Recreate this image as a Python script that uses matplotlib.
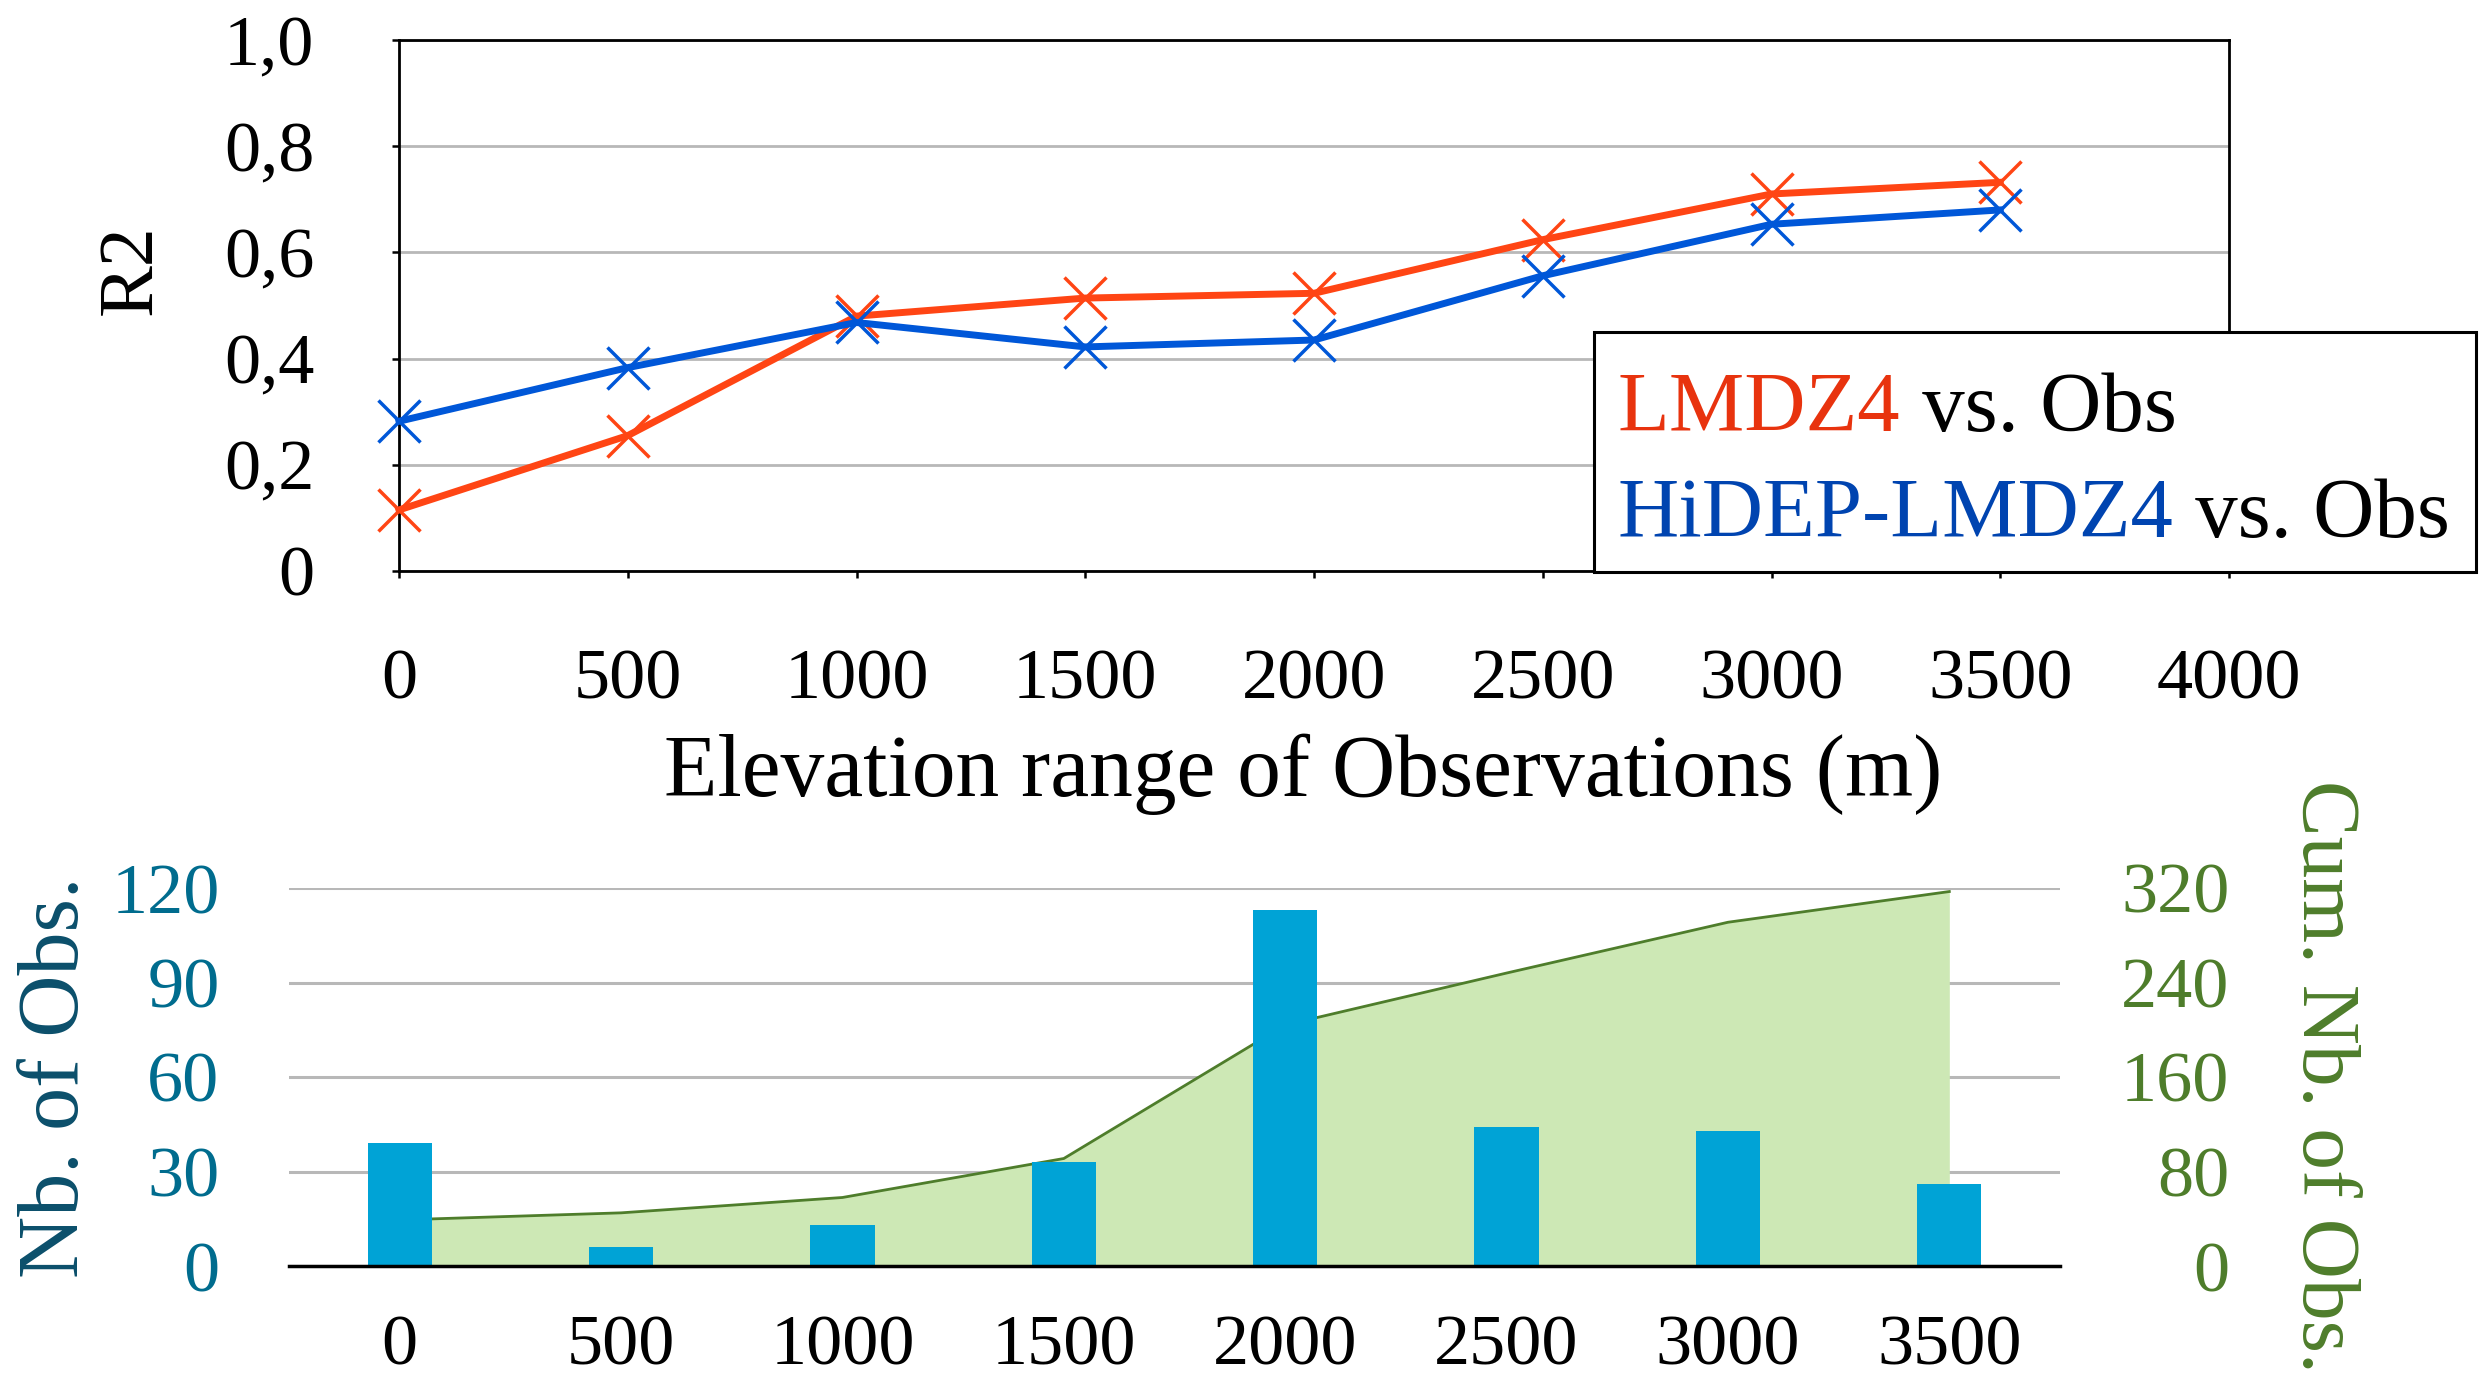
import matplotlib
matplotlib.use('Agg')
import matplotlib.pyplot as plt
from matplotlib.patches import Rectangle
from matplotlib.text import Annotation

# values
elevation = [0, 500, 1000, 1500, 2000, 2500, 3000, 3500]
r2_lmdz4 = [0.115, 0.255, 0.48, 0.514, 0.523, 0.624, 0.71, 0.732]
r2_hidep = [0.282, 0.383, 0.468, 0.422, 0.435, 0.556, 0.653, 0.68]
r2_ticks = [0, 0.2, 0.4, 0.6, 0.8, 1.0]
r2_tick_labels = ['0', '0,2', '0,4', '0,6', '0,8', '1,0']
elev_ticks = [0, 500, 1000, 1500, 2000, 2500, 3000, 3500, 4000]

elev_classes = ['0', '500', '1000', '1500', '2000', '2500', '3000', '3500']
nb_obs = [39, 6, 13, 33, 113, 44, 43, 26]
cum_obs = [39, 45, 58, 91, 204, 248, 291, 317]
nb_ticks = [0, 30, 60, 90, 120]
cum_ticks = [0, 80, 160, 240, 320]

RED = '#ff4514'
BLUE = '#0057d8'
TEAL = '#006c8e'
TEAL_DARK = '#0b4f6b'
OLIVE = '#4e7d2b'
W, H = 2492, 1383

plt.rcParams['font.family'] = ['Liberation Serif', 'DejaVu Serif']

fig = plt.figure(figsize=(W / 100, H / 100), dpi=100)

# --- top panel: R2 against elevation ---
ax1 = fig.add_axes([399 / W, 1 - 571 / H, (2229 - 399) / W, (571 - 40) / H])
ax1.plot(elevation, r2_lmdz4, color=RED, lw=5, marker='x', ms=30, mew=2.5, clip_on=False, zorder=3)
ax1.plot(elevation, r2_hidep, color=BLUE, lw=5, marker='x', ms=30, mew=2.5, clip_on=False, zorder=4)
ax1.set_xlim(0, 4000)
ax1.set_ylim(0, 1)
ax1.set_xticks(elev_ticks)
ax1.set_yticks(r2_ticks, r2_tick_labels)
ax1.grid(axis='y', color='#b8b8b8', lw=2)
ax1.set_axisbelow(True)
for s in ax1.spines.values():
    s.set_linewidth(2)
ax1.tick_params(direction='out', length=5, width=1.8, labelsize=52)
ax1.tick_params(axis='x', pad=51)
ax1.tick_params(axis='y', pad=56)

fig.text(132 / W, 1 - 270 / H, 'R2', rotation=90, fontsize=56, ha='center', va='center')
fig.text(1303 / W, 1 - 774 / H, 'Elevation range of Observations (m)', fontsize=63,
         ha='center', va='center')

# legend box drawn by hand (two-coloured entries)
fig.add_artist(Rectangle((1594 / W, 1 - 572 / H), (2476 - 1594) / W, (572 - 332) / H,
                         transform=fig.transFigure, fc='white', ec='black', lw=2.2, zorder=5))
t1 = fig.text(1618 / W, 1 - 431 / H, 'LMDZ4', color='#e8330e', fontsize=61, va='baseline', zorder=6)
t2 = fig.text(1618 / W, 1 - 537 / H, 'HiDEP-LMDZ4', color='#0044b0', fontsize=61, va='baseline', zorder=6)
for t in (t1, t2):
    a = Annotation(' vs. Obs', xy=(1, 0), xycoords=t, va='bottom', ha='left', fontsize=61, zorder=6)
    fig.add_artist(a)

# --- bottom panel: number of observations ---
axb = fig.add_axes([289 / W, 1 - 1266 / H, (2060 - 289) / W, (1266 - 888) / H])
axc = axb.twinx()
axb.set_zorder(axc.get_zorder() + 1)
axb.patch.set_visible(False)

pos = list(range(len(elev_classes)))
axc.fill_between(pos, cum_obs, color='#cde8b5', lw=0)
axc.plot(pos, cum_obs, color=OLIVE, lw=2)
axb.bar(pos, nb_obs, width=0.29, color='#00a3d6')

axb.set_xlim(-0.5, 7.5)
axb.set_ylim(0, 120)
axc.set_ylim(0, 320)
axb.set_xticks(pos, elev_classes)
axb.set_yticks(nb_ticks)
axc.set_yticks(cum_ticks)
axc.grid(axis='y', color='#b8b8b8', lw=2.2)
axc.set_axisbelow(True)

for s in ['left', 'right', 'top']:
    axb.spines[s].set_visible(False)
for s in axc.spines.values():
    s.set_visible(False)
axb.spines['bottom'].set_linewidth(2.5)

axb.tick_params(axis='x', length=0, pad=35, labelsize=52)
axb.tick_params(axis='y', length=0, pad=50, labelsize=52, labelcolor=TEAL)
axc.tick_params(axis='y', length=0, pad=122, labelsize=52, labelcolor=OLIVE)
for lbl in axc.get_yticklabels():
    lbl.set_horizontalalignment('right')

fig.text(57 / W, 1 - 1077 / H, 'Nb. of Obs.', rotation=90, color=TEAL_DARK, fontsize=62,
         ha='center', va='center')
fig.text(2323 / W, 1 - 1076 / H, 'Cum. Nb. of Obs.', rotation=270, color=OLIVE, fontsize=60,
         ha='center', va='center')

fig.savefig('out.png', dpi=100)
